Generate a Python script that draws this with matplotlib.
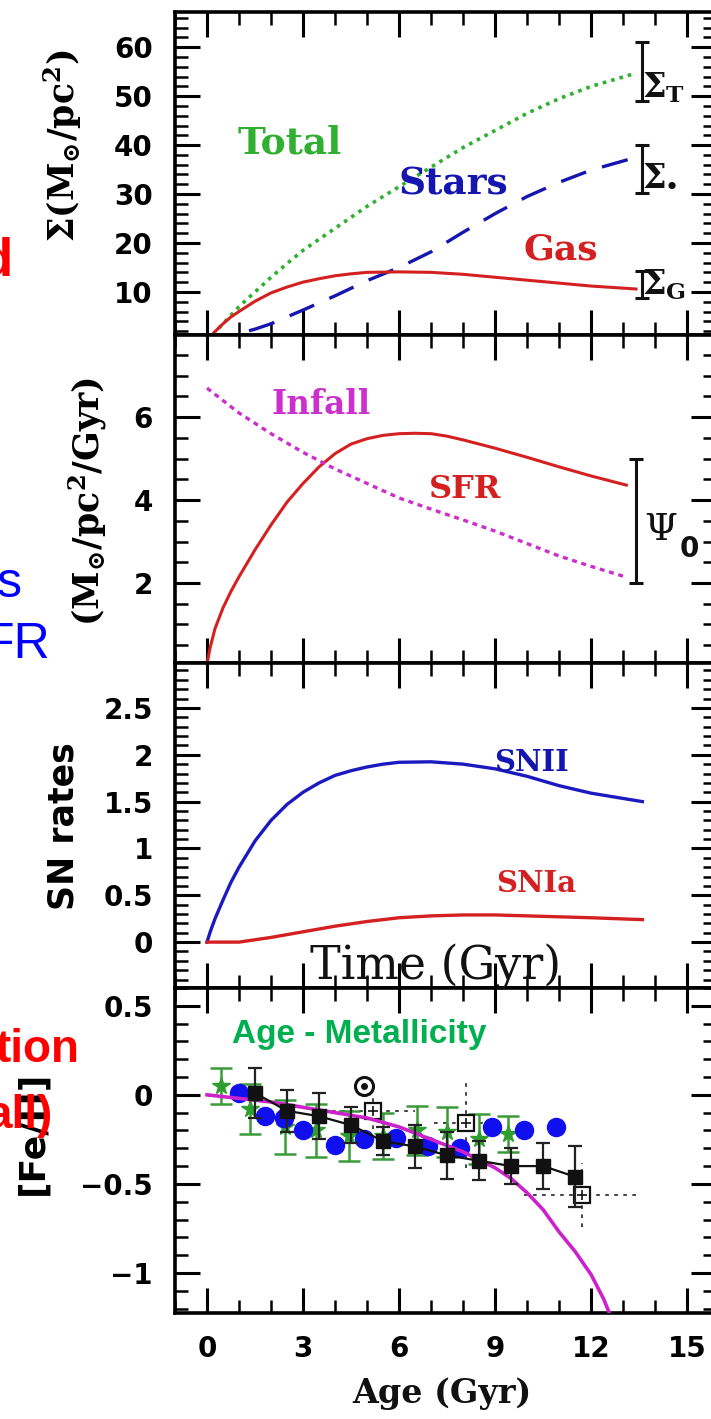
import matplotlib
matplotlib.use("Agg")
import matplotlib.pyplot as plt
from matplotlib.ticker import MultipleLocator, FuncFormatter

plt.rcParams['mathtext.fontset'] = 'dejavuserif'

# ---------------- data ----------------
# Panel 1: surface densities (Msun/pc^2) vs time (Gyr)
t_total = [0, 0.5, 1, 1.5, 2, 2.5, 3, 4, 5, 6, 7, 8, 9, 10, 11, 12, 13.4]
total = [0, 3.5, 7, 10, 13, 15.8, 18.5, 23, 27.5, 31.5, 35.5, 39.5, 43, 46.5, 49.5, 52, 54.7]
t_stars = [0, 0.5, 1, 1.5, 2, 3, 4, 5, 6, 7, 8, 9, 10, 11, 12, 13.4]
stars = [0, 0.5, 1.5, 2.4, 3.5, 6.3, 9.2, 12.3, 15.0, 18.2, 22.2, 26.0, 29.5, 32.4, 34.9, 37.5]
t_gas = [0, 0.25, 0.5, 0.75, 1, 1.5, 2, 2.5, 3, 3.5, 4, 4.5, 5, 6, 7, 8, 9, 10, 11, 12, 13.4]
gas = [0, 1.9, 3.5, 4.9, 6, 8.1, 9.8, 11.0, 12, 12.7, 13.3, 13.7, 14, 14.1, 14, 13.6, 13, 12.4, 11.8, 11.2, 10.6]
sigma_obs_t = [13.6, 13.6, 13.6]
sigma_obs_lo = [49, 30.3, 8.8]
sigma_obs_hi = [61, 40, 14.3]
sigma_names = [r'$\mathbf{\Sigma_{T}}$', r'$\mathbf{\Sigma_{\bullet}}$', r'$\mathbf{\Sigma_{G}}$']

# Panel 2: SFR and infall (Msun/pc^2/Gyr)
t_sfr = [0, 0.1, 0.25, 0.5, 0.75, 1, 1.5, 2, 2.5, 3, 3.5, 4, 4.5, 5, 5.5, 6, 6.5, 7, 7.5, 8, 9, 10, 11, 12, 13.1]
sfr = [0.05, 0.45, 0.9, 1.4, 1.8, 2.15, 2.8, 3.4, 3.95, 4.4, 4.8, 5.12, 5.35, 5.48, 5.56, 5.6, 5.61, 5.6, 5.54, 5.45,
       5.25, 5.03, 4.8, 4.58, 4.36]
t_infall = [0, 1, 2, 3, 4, 5, 6, 7, 8, 9, 10, 11, 12, 13.1]
infall = [6.7, 6.1, 5.6, 5.15, 4.75, 4.4, 4.05, 3.78, 3.52, 3.25, 2.95, 2.65, 2.4, 2.14]
psi0_t = 13.4
psi0_lo, psi0_hi = 2.0, 5.0

# Panel 3: SN rates
t_snii = [0, 0.1, 0.25, 0.5, 0.75, 1, 1.5, 2, 2.5, 3, 3.5, 4, 4.5, 5, 5.5, 6, 7, 8, 9, 10, 11, 12, 13.6]
snii = [0, 0.11, 0.25, 0.45, 0.64, 0.8, 1.08, 1.3, 1.47, 1.6, 1.7, 1.78, 1.83, 1.87, 1.9, 1.92, 1.925, 1.9, 1.85,
        1.77, 1.67, 1.59, 1.5]
t_snia = [0, 1, 2, 3, 4, 5, 6, 7, 8, 9, 10, 11, 12, 13.6]
snia = [0, 0.0, 0.05, 0.11, 0.17, 0.22, 0.26, 0.28, 0.29, 0.29, 0.28, 0.27, 0.26, 0.24]

# Panel 4: age-metallicity relation
age_model = [0, 1, 2, 3, 4, 5, 6, 7, 8, 9, 9.5, 10, 10.5, 11, 11.5, 12, 12.4, 12.8]
feh_model = [0, -0.02, -0.04, -0.07, -0.1, -0.13, -0.18, -0.25, -0.32, -0.41, -0.47, -0.55, -0.645, -0.77, -0.88,
             -1.01, -1.15, -1.33]
age_black = [1.5, 2.5, 3.5, 4.5, 5.5, 6.5, 7.5, 8.5, 9.5, 10.5, 11.5]
feh_black = [0.01, -0.09, -0.12, -0.17, -0.26, -0.29, -0.34, -0.37, -0.40, -0.40, -0.46]
err_black = [0.14, 0.12, 0.13, 0.10, 0.08, 0.12, 0.13, 0.11, 0.10, 0.13, 0.17]
age_green = [0.45, 1.35, 2.45, 3.4, 4.45, 5.5, 6.55, 7.5, 8.5, 9.4]
feh_green = [0.05, -0.08, -0.18, -0.2, -0.23, -0.23, -0.2, -0.21, -0.25, -0.22]
err_green = [0.10, 0.14, 0.15, 0.15, 0.14, 0.13, 0.14, 0.14, 0.14, 0.10]
age_blue = [1.0, 1.8, 2.4, 3.0, 4.0, 4.9, 5.9, 6.9, 7.9, 8.9, 9.9, 10.9]
feh_blue = [0.01, -0.12, -0.13, -0.2, -0.28, -0.25, -0.24, -0.29, -0.30, -0.18, -0.20, -0.18]
age_open = [5.2, 8.1, 11.7]
feh_open = [-0.09, -0.16, -0.56]
xerr_open = [1.3, 1.0, 1.8]
yerr_open = [0.1, 0.25, 0.18]
sun_age, sun_feh = 4.9, 0.05

# ---------------- figure ----------------
W, H = 711, 1419
fig = plt.figure(figsize=(W / 100, H / 100), dpi=100)

def fpos(x, y):
    return x / W, 1 - y / H

def add_axes(top, bottom):
    left, right = 175, 716
    return fig.add_axes([left / W, 1 - bottom / H, (right - left) / W, (bottom - top) / H])

ax1 = add_axes(12, 335)
ax2 = add_axes(335, 663)
ax3 = add_axes(663, 988)
ax4 = add_axes(988, 1313)

RED = '#d42020'
GREEN = '#30b030'
DBLUE = '#1515b0'
MAG = '#cc30cc'

fmt = FuncFormatter(lambda v, p: ('%g' % (0 if abs(v) < 1e-9 else v)).replace('-', '\u2212'))

for ax in (ax1, ax2, ax3, ax4):
    ax.set_xlim(-1, 15.9)
    ax.xaxis.set_major_locator(MultipleLocator(3))
    ax.xaxis.set_minor_locator(MultipleLocator(1))
    ax.tick_params(which='both', direction='in', top=True, right=True)
    ax.tick_params(which='major', length=18, width=2.2, labelsize=20, pad=16)
    ax.tick_params(which='minor', length=9.5, width=1.8)
    for s in ax.spines.values():
        s.set_linewidth(2.6)
    ax.yaxis.set_major_formatter(fmt)
    for lab in ax.get_yticklabels():
        lab.set_fontweight('bold')
    if ax is not ax4:
        ax.tick_params(labelbottom=False)

# Panel 1
ax1.set_ylim(1.2, 67.2)
ax1.yaxis.set_major_locator(MultipleLocator(10))
ax1.yaxis.set_minor_locator(MultipleLocator(2))
ax1.plot(t_total, total, color=GREEN, lw=2.6, linestyle=(0, (1, 1.4)))
ax1.plot(t_stars, stars, color=DBLUE, lw=2.4, linestyle=(0, (8, 5)))
ax1.plot(t_gas, gas, color=RED, lw=2.2)
for tt, lo, hi in zip(sigma_obs_t, sigma_obs_lo, sigma_obs_hi):
    ax1.errorbar([tt], [(lo + hi) / 2], yerr=[[(hi - lo) / 2], [(hi - lo) / 2]],
                 fmt='none', ecolor='#111111', elinewidth=2.2, capsize=5, capthick=2.2)

# Panel 2
ax2.set_ylim(0.07, 7.98)
ax2.yaxis.set_major_locator(MultipleLocator(2))
ax2.yaxis.set_minor_locator(MultipleLocator(0.5))
ax2.plot(t_sfr, sfr, color=RED, lw=2.2)
ax2.plot(t_infall, infall, color=MAG, lw=2.4, linestyle=(0, (1.5, 1.4)))
ax2.errorbar([psi0_t], [(psi0_lo + psi0_hi) / 2], yerr=[[(psi0_hi - psi0_lo) / 2], [(psi0_hi - psi0_lo) / 2]],
             fmt='none', ecolor='#111111', elinewidth=2.2, capsize=5, capthick=2.2)

# Panel 3
ax3.set_ylim(-0.49, 2.98)
ax3.yaxis.set_major_locator(MultipleLocator(0.5))
ax3.yaxis.set_minor_locator(MultipleLocator(0.1))
ax3.plot(t_snii, snii, color='#1a1ac0', lw=2.4)
ax3.plot(t_snia, snia, color=RED, lw=2.4)

# Panel 4
ax4.set_ylim(-1.225, 0.60)
ax4.yaxis.set_major_locator(MultipleLocator(0.5))
ax4.yaxis.set_minor_locator(MultipleLocator(0.1))
ax4.xaxis.set_major_formatter(fmt)
for lab in ax4.get_xticklabels():
    lab.set_fontweight('bold')

eo = ax4.errorbar(age_open, feh_open, xerr=xerr_open, yerr=yerr_open, fmt='s', ms=12, mfc='white',
                  mec='#111111', mew=1.6, ecolor='#333333', elinewidth=1.3, capsize=0, zorder=2)
for lc in eo[2]:
    lc.set_linestyle((0, (2, 3)))
ax4.plot(age_open, feh_open, '+', color='#111111', ms=7, mew=1.2, zorder=3)
ax4.errorbar(age_green, feh_green, yerr=err_green, fmt='*', ms=13, color='#2e9e2e',
             ecolor='#3a9a3a', elinewidth=1.8, capsize=8, capthick=1.8, zorder=2)
ax4.plot(age_blue, feh_blue, 'o', ms=13, color='#1010ee', zorder=2.5)
ax4.plot(age_model, feh_model, color='#cc22cc', lw=2.6, zorder=3)
ax4.errorbar(age_black, feh_black, yerr=err_black, fmt='s-', ms=10, color='#111111',
             ecolor='#222222', elinewidth=1.6, capsize=5, capthick=1.6, lw=1.6, zorder=4)
ax4.plot([sun_age], [sun_feh], 'o', ms=13, mfc='white', mec='#111111', mew=2.2, zorder=5)
ax4.plot([sun_age], [sun_feh], 'o', ms=4, color='#111111', zorder=6)

# ---------------- texts ----------------
def ftext(x, y, s, **kw):
    fx, fy = fpos(x, y)
    fig.text(fx, fy, s, **kw)

serif_b = dict(family='DejaVu Serif', fontweight='bold')
ftext(290, 143, 'Total', color=GREEN, fontsize=27, ha='center', va='center', **serif_b)
ftext(453, 184, 'Stars', color=DBLUE, fontsize=27, ha='center', va='center', **serif_b)
ftext(561, 249, 'Gas', color=RED, fontsize=26, ha='center', va='center', **serif_b)
ftext(321, 405, 'Infall', color=MAG, fontsize=23.5, ha='center', va='center', **serif_b)
ftext(465, 490, 'SFR', color=RED, fontsize=23, ha='center', va='center', **serif_b)
ftext(531, 763, 'SNII', color=DBLUE, fontsize=21, ha='center', va='center', **serif_b)
ftext(536, 884, 'SNIa', color=RED, fontsize=21, ha='center', va='center', **serif_b)
ftext(436, 979, 'Time (Gyr)', color='#111111', fontsize=33, ha='center', va='baseline', family='DejaVu Serif')

ftext(642, 88, sigma_names[0], color='#111111', fontsize=24, ha='left', va='center')
ftext(642, 175, sigma_names[1], color='#111111', fontsize=24, ha='left', va='center')
ftext(642, 285, sigma_names[2], color='#111111', fontsize=24, ha='left', va='center')
ftext(644, 530, r'$\Psi$', color='#111111', fontsize=27, ha='left', va='center')
ftext(680, 549, '0', color='#111111', fontsize=20, ha='left', va='center', fontweight='bold')

ftext(63, 146, r'$\mathbf{\Sigma(M_{\odot}/pc^{2})}$', fontsize=25, rotation=90, ha='center', va='center')
ftext(88, 501, r'$\mathbf{(M_{\odot}/pc^{2}/Gyr)}$', fontsize=25, rotation=90, ha='center', va='center')
ftext(63, 826, 'SN rates', fontsize=25, rotation=90, ha='center', va='center', fontweight='bold')
ftext(32, 1133, '[Fe/H]', fontsize=26, rotation=90, ha='center', va='center', fontweight='bold')

ftext(359, 1035, 'Age - Metallicity', color='#00b050', fontsize=24, ha='center', va='center',
      family='Liberation Sans', fontweight='bold')
ftext(442, 1393, 'Age (Gyr)', color='#111111', fontsize=24, ha='center', va='center', **serif_b)

# cropped slide text fragments on the left edge
ftext(13, 275, 'd', color='#ff0000', fontsize=38, ha='right', va='baseline', family='Liberation Sans', fontweight='bold')
ftext(22, 597, 's', color='#0000ff', fontsize=36, ha='right', va='baseline', family='Liberation Sans')
ftext(50, 658, 'FR', color='#0000ff', fontsize=36, ha='right', va='baseline', family='Liberation Sans')
ftext(80, 1062, 'tion', color='#ff0000', fontsize=33, ha='right', va='baseline', family='Liberation Sans', fontweight='bold')
ftext(53, 1128, 'all)', color='#ff0000', fontsize=33, ha='right', va='baseline', family='Liberation Sans', fontweight='bold')

fig.savefig('out.png', dpi=100)
